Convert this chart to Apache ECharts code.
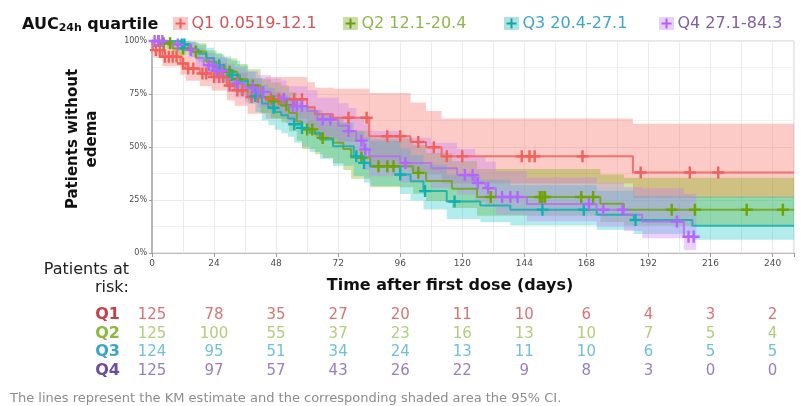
<!DOCTYPE html>
<html><head><meta charset="utf-8">
<script src="https://cdn.jsdelivr.net/npm/echarts@6/dist/echarts.min.js"></script>
<style>html,body{margin:0;padding:0;background:#fff}#c{width:803px;height:406px}</style>
</head><body><div id="c"></div>
<script>
// ---------------- data ----------------
const legendNames = ['Q1 0.0519-12.1', 'Q2 12.1-20.4', 'Q3 20.4-27.1', 'Q4 27.1-84.3'];
const riskLabels = ['Q1', 'Q2', 'Q3', 'Q4'];
const riskTimes = [0, 24, 48, 72, 96, 120, 144, 168, 192, 216, 240];
const riskQ1 = [125, 78, 35, 27, 20, 11, 10, 6, 4, 3, 2];
const riskQ2 = [125, 100, 55, 37, 23, 16, 13, 10, 7, 5, 4];
const riskQ3 = [124, 95, 51, 34, 24, 13, 11, 10, 6, 5, 5];
const riskQ4 = [125, 97, 57, 43, 26, 22, 9, 8, 3, 0, 0];
const xTickLabels = [0, 24, 48, 72, 96, 120, 144, 168, 192, 216, 240];
const yTickLabels = [0, 25, 50, 75, 100];
const lastFollowUp = [248.3, 248.3, 248.3, 210.5];

const q1Times = [0,0.5,4,11,13,18.5,23,29,32,37,44,60,63,70,84,100,106,112,186];
const q1Surv  = [100,95.7,92.6,89.4,87,84.7,83,79,76.8,73.6,72.5,68.7,65.5,63.8,55.1,52.4,49.9,45.6,38];
const q1Lower = [100,92.1,88.1,84.1,81.2,78.6,76.6,71.9,69.4,65.7,63.3,58.6,55,52.5,40.2,38.7,37.2,32.8,26];
const q1Upper = [100,99.4,97.3,95,93.2,91.3,89.9,86.8,85,82.4,83,80.5,78,77.5,75.5,71,67,63.5,61];
const q1Censor = [1.5,3,5,6.5,8,9.5,12,14,16,19.5,21,24,26,27.5,30,33,35,38.5,41,46,49,51,55,58,76,83,91,96,103,109,114,120,143,146,148,166.5,189,208,219];

const q2Times = [0,3,8,17,21,25,28,33,37,42,46,50,53,56,58,63,66,70,74,77,84.4,101,106,116,125.7,173.4,182.5];
const q2Surv  = [100,98.9,96.5,95,90.2,88,85.5,82,79,73.6,71.5,69.7,66,62,58.3,56,54.3,52,49,45,40.9,37.8,34,30.3,26.4,23.2,20.4];
const q2Lower = [100,97,93.3,91.2,85.2,82.5,79.6,75.4,72,66,63.6,61.5,57.4,53,49,46.6,44.8,42.3,39.2,35,31,28,24.5,21.2,17.6,14.6,12.8];
const q2Upper = [100,100,99.8,98.9,95.5,93.9,91.8,89.2,86.7,82,80.4,79,75.9,72.5,69.4,67.3,65.8,63.9,61.2,57.8,54,51,47.2,43.3,39.6,37,35.5];
const q2Censor = [2.5,4.5,7,12,17,26,30,33,39,47,52,60,62,66,81,87.6,91,93.4,103,131,150,151,152,166,170.6,201,210,230,244];

const q3Times = [0,11,15,18,21,24,27,30.6,34,37.2,40,42.5,45,47.5,50,52.6,55,58,61,65,70,78,82,84.4,96,100,105,114,127,138.6,172,186.3,209];
const q3Surv  = [100,98.4,96,94,92,88.6,86.5,84,81,77.6,74,70.5,68.5,66.5,65,63.4,60.7,59,56.7,53.5,50.4,45.6,42.5,40.9,37,33.8,29.2,24.3,22.4,20.4,18,15.6,12.9];
const q3Lower = [100,96.2,92.6,90,87.4,83.2,80.7,77.8,74.3,70.4,66.4,62.5,60.3,58.1,56.5,54.8,52,50.1,47.7,44.4,41.2,36.3,33.2,31.6,27.8,24.8,20.5,16,14.5,13,11,9,6.2];
const q3Upper = [100,100,99.5,98.2,96.8,94.3,92.7,90.7,88.3,85.5,82.5,79.5,77.8,76.1,74.8,73.3,70.9,69.4,67.4,64.5,61.7,57.2,54.4,53,49.3,46.1,41.6,36.9,34.6,32,29.4,27,26.7];
const q3Censor = [11.5,12.5,26,31,40,47,55,58,79,82,96,105.6,117,151,167,187];

const q4Times = [0,6,14,17,20,24,29,32,36,41,46,50,52,60,64,72,76,79,82,84,96,108,118,125,129,133,145,172,182.5,189.6,205.7];
const q4Surv  = [100,98.4,95.7,92,88.6,86,82.3,80,78,76,74,72.8,69.3,67,63,60,57.5,53,48.8,45.6,42.5,40,36.8,33,30.6,26.4,23.1,20.4,18,14.8,7.7];
const q4Lower = [100,96.2,92.2,87.4,83.2,80.1,75.9,73.3,71,68.8,66.5,65,61,58.5,54.2,51,48.3,43.6,39.3,36.2,33.2,30.8,27.6,24,21.8,18,15,12.6,10.4,7,1.4];
const q4Upper = [100,100,99.3,96.8,94.3,92.3,89.3,87.4,85.7,84,82.3,81.4,78.7,76.8,73.2,70.6,68.4,64.4,60.6,57.5,54.4,52,49,45.4,43,38.7,35.6,33,31,30.5,28];
const q4Censor = [1,2.5,4,10,15,22,23.5,25,27,33,39,41,43,51,54.5,56,58,66,69,76,81,82.5,98,121,124,126,130,135.4,138.6,141.4,169,174.5,182,203,207.5,209.5];

// ---------------- styles ----------------
const FONT = '"DejaVu Sans", Verdana, sans-serif';
const X_MAX = 248.3;
const lineColors = ['#F3625D', '#72A31A', '#12AEB0', '#B46EF0'];
const markColors = ['#F2605A', '#6EA300', '#0FB0B4', '#B565FF'];
const bandColors = ['rgba(248,118,109,0.38)', 'rgba(124,174,0,0.35)', 'rgba(0,191,196,0.30)', 'rgba(199,124,255,0.35)'];
const legendBox = ['#fbc9c7', '#c9dea4', '#ace4e5', '#e9cffd'];
const legendPlus = ['#f0605a', '#6a9e12', '#14a4a6', '#b060ff'];
const legendText = ['#d25555', '#8cb84b', '#3ea5c8', '#7d5fa5'];
const riskLabelColors = ['#c4404a', '#8db83e', '#3aa6c6', '#6e4f9e'];
const riskNumColors = ['#d0504f', '#9cc25a', '#4ab0cc', '#7d5fab'];

const groups = [
  {t: q1Times, s: q1Surv, lo: q1Lower, hi: q1Upper, c: q1Censor, risk: riskQ1},
  {t: q2Times, s: q2Surv, lo: q2Lower, hi: q2Upper, c: q2Censor, risk: riskQ2},
  {t: q3Times, s: q3Surv, lo: q3Lower, hi: q3Upper, c: q3Censor, risk: riskQ3},
  {t: q4Times, s: q4Surv, lo: q4Lower, hi: q4Upper, c: q4Censor, risk: riskQ4}
];

function survAt(g, time) {
  let v = g.s[0];
  for (let i = 0; i < g.t.length; i++) { if (g.t[i] <= time) v = g.s[i]; }
  return v;
}

const PLUS = 'path://M4,0H6V4H10V6H6V10H4V6H0V4H4Z';
const series = [];

// CI bands
groups.forEach((g, gi) => {
  const end = lastFollowUp[gi];
  series.push({
    type: 'custom', name: legendNames[gi] + ' CI', xAxisIndex: 0, yAxisIndex: 0,
    silent: true, z: 1, data: [[0, 100]],
    renderItem: function (params, api) {
      const pts = [];
      const n = g.t.length;
      for (let i = 0; i < n; i++) {
        const t1 = i + 1 < n ? g.t[i + 1] : end;
        pts.push(api.coord([g.t[i], g.hi[i]]));
        pts.push(api.coord([t1, g.hi[i]]));
      }
      for (let i = n - 1; i >= 0; i--) {
        const t1 = i + 1 < n ? g.t[i + 1] : end;
        pts.push(api.coord([t1, g.lo[i]]));
        pts.push(api.coord([g.t[i], g.lo[i]]));
      }
      return {type: 'polygon', shape: {points: pts}, style: {fill: bandColors[gi]}};
    }
  });
});
// KM lines
groups.forEach((g, gi) => {
  const data = g.t.map((t, i) => [t, g.s[i]]);
  data.push([lastFollowUp[gi], g.s[g.s.length - 1]]);
  series.push({
    type: 'line', name: legendNames[gi], step: 'end', data: data,
    xAxisIndex: 0, yAxisIndex: 0, showSymbol: false, symbol: 'none', z: 3,
    lineStyle: {width: 2, color: lineColors[gi], opacity: 0.85}, silent: true
  });
});
// censor marks
groups.forEach((g, gi) => {
  series.push({
    type: 'scatter', name: legendNames[gi] + ' censored', xAxisIndex: 0, yAxisIndex: 0,
    symbol: PLUS, symbolSize: 12, z: 4, silent: true,
    itemStyle: {color: markColors[gi], opacity: 1},
    data: g.c.map(c => [c, survAt(g, c)])
  });
});
// risk table
groups.forEach((g, gi) => {
  series.push({
    type: 'scatter', name: riskLabels[gi] + ' at risk', xAxisIndex: 1, yAxisIndex: 1,
    symbolSize: 1, silent: true, clip: false, itemStyle: {color: 'rgba(0,0,0,0)'},
    label: {show: true, position: 'inside', formatter: p => String(p.value[2]),
      color: riskNumColors[gi], fontFamily: FONT, fontSize: 15},
    data: riskTimes.map((t, j) => [t, gi, g.risk[j]])
  });
});

// legend as graphics (box with plus + text)
const legendX = [173, 343, 504, 659];
const graphics = [];
legendNames.forEach((nm, i) => {
  const x = legendX[i], yc = 23.5;
  graphics.push({type: 'rect', shape: {x: x, y: 17, width: 15, height: 13}, style: {fill: legendBox[i]}});
  graphics.push({type: 'line', shape: {x1: x + 2.5, y1: yc, x2: x + 12.5, y2: yc}, style: {stroke: legendPlus[i], lineWidth: 2}});
  graphics.push({type: 'line', shape: {x1: x + 7.5, y1: yc - 5, x2: x + 7.5, y2: yc + 5}, style: {stroke: legendPlus[i], lineWidth: 2}});
  graphics.push({type: 'text', style: {text: nm, x: x + 18.5, y: yc, align: 'left', verticalAlign: 'middle',
    textAlign: 'left', textVerticalAlign: 'middle', font: '16px ' + FONT, fill: legendText[i]}});
});
graphics.push({type: 'text', style: {text: 'Patients at\nrisk:', x: 129, y: 261, align: 'right', textAlign: 'right',
  verticalAlign: 'top', textVerticalAlign: 'top', font: '16px ' + FONT, lineHeight: 18, fill: '#222'}});
graphics.push({type: 'text', style: {text: 'The lines represent the KM estimate and the corresponding shaded area the 95% CI.',
  x: 10, y: 399, align: 'left', verticalAlign: 'middle', textAlign: 'left', textVerticalAlign: 'middle',
  font: '13px ' + FONT, fill: '#8c8c8c'}});

const option = {
  animation: false,
  backgroundColor: '#fff',
  title: {
    text: '{a|AUC}{b|24h}{a| quartile}', left: 17, top: 10,
    textStyle: {rich: {
      a: {fontFamily: FONT, fontSize: 16, fontWeight: 'bold', color: '#111'},
      b: {fontFamily: FONT, fontSize: 11, fontWeight: 'bold', color: '#111', padding: [8, 0, 0, 0]}
    }}
  },
  grid: [
    {left: 152, right: 9, top: 41, bottom: 153, show: true, borderColor: '#cfcfcf', borderWidth: 1, backgroundColor: '#fff'},
    {left: 152, right: 9, top: 306, height: 74, show: false}
  ],
  xAxis: [
    {type: 'value', gridIndex: 0, min: 0, max: X_MAX, interval: 12, position: 'bottom',
      name: 'Time after first dose (days)', nameLocation: 'middle', nameGap: 25,
      nameTextStyle: {fontFamily: FONT, fontWeight: 'bold', fontSize: 16, color: '#111', padding: [0, 46, 0, 0]},
      axisLine: {show: true, onZero: false, lineStyle: {color: '#bdbdbd', width: 1}},
      axisTick: {show: false},
      axisLabel: {fontFamily: FONT, fontSize: 9, color: '#4d4d4d', margin: 6,
        formatter: v => (xTickLabels.indexOf(v) >= 0 ? String(v) : '')},
      splitLine: {show: true, lineStyle: {color: '#ebebeb', width: 1}}
    },
    {type: 'value', gridIndex: 1, min: 0, max: X_MAX, show: false},
    {type: 'value', gridIndex: 0, min: 0, max: X_MAX, interval: 24, position: 'bottom',
      axisLine: {show: false, onZero: false}, axisLabel: {show: false}, splitLine: {show: false},
      axisTick: {show: true, length: 4, lineStyle: {color: '#999'}}}
  ],
  yAxis: [
    {type: 'value', gridIndex: 0, min: 0, max: 100, interval: 25,
      name: 'Patients without\nedema', nameLocation: 'middle', nameRotate: 90, nameGap: 50,
      nameTextStyle: {fontFamily: FONT, fontWeight: 'bold', fontSize: 15, lineHeight: 19, color: '#111', padding: [0, 0, 0, 16]},
      axisLine: {show: true, lineStyle: {color: '#b8b8b8', width: 2}},
      axisTick: {show: true, length: 3, lineStyle: {color: '#999'}},
      axisLabel: {fontFamily: FONT, fontSize: 8, color: '#4d4d4d', margin: 5,
        formatter: v => (yTickLabels.indexOf(v) >= 0 ? v + '%' : '')},
      splitLine: {show: true, lineStyle: {color: '#ebebeb'}},
      minorTick: {show: false, splitNumber: 2},
      minorSplitLine: {show: true, lineStyle: {color: '#f1f1f1'}}
    },
    {type: 'category', gridIndex: 1, data: riskLabels, inverse: true,
      axisLine: {show: false}, axisTick: {show: false}, splitLine: {show: false},
      axisLabel: {interval: 0, fontFamily: FONT, fontSize: 16, fontWeight: 'bold', margin: 32,
        color: (v, i) => riskLabelColors[riskLabels.indexOf(v)]}}
  ],
  series: series,
  graphic: graphics
};

const chart = echarts.init(document.getElementById('c'));
chart.setOption(option);
</script></body></html>
